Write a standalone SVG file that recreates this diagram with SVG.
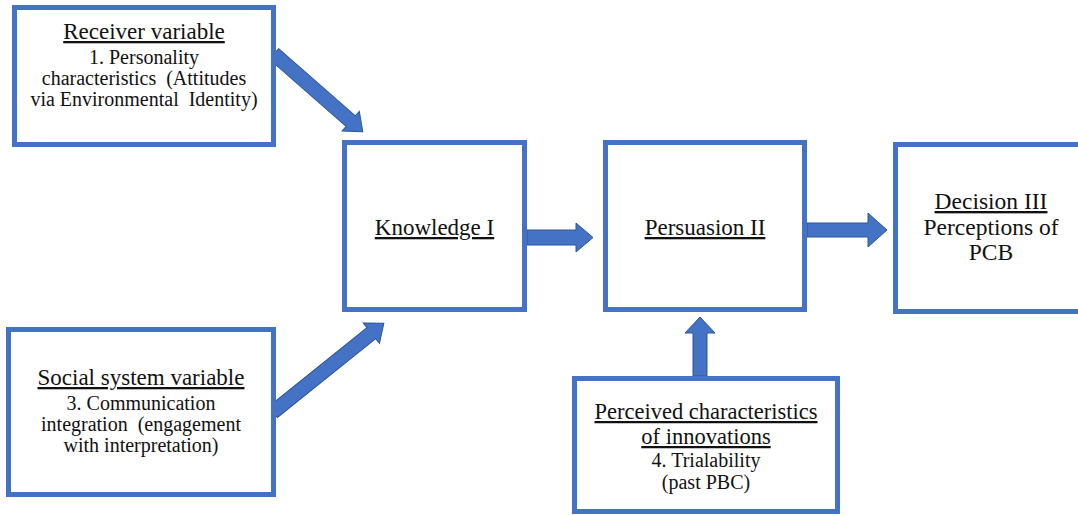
<svg xmlns="http://www.w3.org/2000/svg" width="1078" height="515" viewBox="0 0 1078 515">
<style>
.box{fill:#fff;stroke:#4472C4;stroke-width:5}
.arr{fill:#4472C4;stroke:#2F5597;stroke-width:1}
.t text{fill:#111;text-anchor:middle}
.h{font-size:23px;text-decoration:underline}
.b{font-size:20px}
.m{font-size:23.5px}
</style>
<rect width="1078" height="515" fill="#fff"/>
<g id="connectors">
<polygon class="arr" points="527,230 576,230 576,223 593,237.5 576,252 576,245 527,245"/>
<polygon class="arr" points="807,223 868,223 868,213 887,230 868,247 868,237 807,237"/>
<polygon class="arr" points="693,376 693,333 685,333 700,317 715,333 707,333 707,376"/>
<polygon class="arr" transform="translate(274,54) rotate(41.2)" points="0,-7 102,-7 102,-13 118,0 102,13 102,7 0,7"/>
<polygon class="arr" transform="translate(273,412) rotate(-38.7)" points="0,-7 126,-7 126,-13 142,0 126,13 126,7 0,7"/>
</g>
<g class="t" font-family="'Liberation Serif', 'Times New Roman', 'DejaVu Serif', serif">
<g id="receiver">
<rect class="box" x="14.5" y="7.5" width="259" height="137"/>
<text class="h" x="144" y="39">Receiver variable</text>
<text class="b" x="144" y="64">1. Personality</text>
<text class="b" x="144" y="85">characteristics&#160; (Attitudes</text>
<text class="b" x="144" y="106">via Environmental&#160; Identity)</text>
</g>
<g id="knowledge">
<rect class="box" x="344.5" y="142.5" width="180" height="167"/>
<text class="h" x="434.5" y="235">Knowledge I</text>
</g>
<g id="persuasion">
<rect class="box" x="605.5" y="142.5" width="199" height="167"/>
<text class="h" x="705" y="235">Persuasion II</text>
</g>
<g id="decision">
<rect class="box" x="895.5" y="144.5" width="200" height="167"/>
<text class="m" x="991" y="209" text-decoration="underline">Decision III</text>
<text class="m" x="991" y="235">Perceptions of</text>
<text class="m" x="991" y="260">PCB</text>
</g>
<g id="social">
<rect class="box" x="8.5" y="329.5" width="265" height="165"/>
<text class="h" x="141" y="385">Social system variable</text>
<text class="b" x="141" y="410">3. Communication</text>
<text class="b" x="141" y="431">integration&#160; (engagement</text>
<text class="b" x="141" y="452">with interpretation)</text>
</g>
<g id="perceived">
<rect class="box" x="574.5" y="378.5" width="263" height="133"/>
<text class="h" x="706" y="419" style="font-size:22.5px">Perceived characteristics</text>
<text class="h" x="706" y="444" style="font-size:22.5px">of innovations</text>
<text class="b" x="706" y="467">4. Trialability</text>
<text class="b" x="706" y="489">(past PBC)</text>
</g>
</g>
</svg>
